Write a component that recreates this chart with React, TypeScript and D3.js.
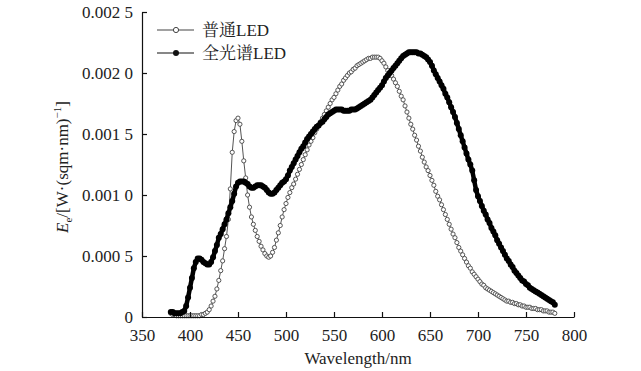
import React, { useEffect, useRef } from "react";
import * as d3 from "d3";

// Wavelength grid (nm)
const WL_START = 380;
const WL_END = 780;
const WL_STEP = 2;
const wavelengths: number[] = d3.range(WL_START, WL_END + 1, WL_STEP);

// Spectral irradiance values, in units of 1e-5 W·(sqm·nm)^-1
const UNIT = 1e-5;
const normalLED: number[] = [
  3, 2, 2, 1, 1, 1, 1, 1, 1, 1,
  1, 1, 1, 1, 1, 1, 2, 2, 3, 4,
  6, 9, 13, 17, 23, 30, 38, 46, 56, 66,
  80, 105, 135, 152, 161, 163, 158, 144, 128, 114,
  100, 90, 82, 76, 71, 66, 62, 58, 55, 52,
  50, 49, 50, 53, 57, 63, 69, 75, 82, 88,
  93, 98, 102, 106, 109, 113, 117, 121, 125, 129,
  133, 137, 141, 144, 147, 151, 154, 157, 160, 163,
  166, 169, 172, 175, 178, 180, 183, 186, 189, 191,
  194, 196, 198, 200, 201, 203, 204, 206, 207, 208,
  209, 210, 211, 212, 212, 213, 213, 213, 213, 212,
  210, 208, 205, 202, 200, 198, 195, 192, 189, 185,
  181, 178, 173, 168, 163, 158, 154, 149, 145, 140,
  136, 131, 127, 123, 120, 116, 112, 108, 103, 99,
  96, 92, 88, 84, 80, 76, 72, 68, 65, 61,
  57, 54, 51, 48, 45, 42, 40, 37, 35, 33,
  31, 29, 27, 26, 24, 23, 22, 21, 20, 19,
  18, 17, 16, 15, 14, 13, 13, 12, 12, 11,
  11, 10, 10, 9, 9, 8, 8, 8, 7, 7,
  7, 6, 6, 6, 5, 5, 5, 4, 4, 4,
  3,
];
const fullSpectrumLED: number[] = [
  4, 4, 3, 3, 3, 3, 4, 5, 9, 16,
  24, 32, 40, 45, 48, 48, 47, 45, 44, 43,
  43, 45, 49, 54, 59, 65, 68, 72, 76, 80,
  85, 90, 95, 101, 107, 110, 111, 111, 111, 110,
  109, 107, 106, 106, 107, 108, 108, 108, 107, 106,
  104, 102, 101, 101, 102, 104, 106, 108, 110, 111,
  113, 116, 120, 123, 126, 129, 132, 135, 138, 140,
  143, 146, 148, 150, 152, 154, 156, 157, 159, 160,
  162, 164, 166, 167, 168, 169, 170, 170, 170, 170,
  169, 169, 169, 169, 170, 170, 170, 171, 172, 173,
  174, 175, 176, 177, 178, 180, 182, 184, 186, 188,
  190, 193, 196, 198, 200, 202, 204, 206, 208, 210,
  212, 214, 215, 216, 217, 217, 217, 217, 217, 216,
  216, 215, 214, 213, 211, 209, 206, 202, 199, 196,
  193, 190, 187, 183, 180, 176, 172, 168, 164, 159,
  154, 149, 144, 139, 134, 129, 125, 120, 112, 104,
  99, 95, 91, 87, 84, 80, 77, 73, 70, 67,
  63, 60, 57, 54, 51, 48, 46, 43, 41, 38,
  36, 34, 32, 30, 29, 27, 26, 24, 23, 22,
  21, 20, 19, 18, 17, 16, 15, 14, 13, 12,
  10,
];

const seriesNamesCJK = ["普通", "全光谱"];
const seriesNamesLatin = ["LED", "LED"];
const xTicks = [350, 400, 450, 500, 550, 600, 650, 700, 750, 800];
const yTicks = [0, 0.0005, 0.001, 0.0015, 0.002, 0.0025];
const yTickLabels = ["0", "0.000 5", "0.001 0", "0.001 5", "0.002 0", "0.002 5"];
const xLabel = "Wavelength/nm";

const W = 641;
const H = 371;

export default function App() {
  const xAxisRef = useRef<SVGGElement>(null);
  const yAxisRef = useRef<SVGGElement>(null);

  const x = d3.scaleLinear().domain([350, 800]).range([142, 574]);
  const y = d3.scaleLinear().domain([0, 0.0025]).range([317, 12]);

  const normalPts = wavelengths.map((w, i) => [w, normalLED[i] * UNIT] as [number, number]);
  const fullPts = wavelengths.map((w, i) => [w, fullSpectrumLED[i] * UNIT] as [number, number]);
  const line = d3
    .line<[number, number]>()
    .x((d) => x(d[0]))
    .y((d) => y(d[1]));

  useEffect(() => {
    const gx = d3.select(xAxisRef.current!);
    gx.call(
      d3
        .axisBottom(x)
        .tickValues(xTicks)
        .tickSizeInner(-5)
        .tickSizeOuter(0)
        .tickPadding(12)
        .tickFormat((d) => String(d))
    );
    const gy = d3.select(yAxisRef.current!);
    gy.call(
      d3
        .axisLeft(y)
        .tickValues(yTicks)
        .tickSizeInner(-5)
        .tickSizeOuter(0)
        .tickPadding(9)
        .tickFormat((d, i) => yTickLabels[i])
    );
    [gx, gy].forEach((g) => {
      g.attr("font-family", null).attr("font-size", null);
      g.select(".domain").attr("stroke", "#111").attr("stroke-width", 1.2);
      g.selectAll(".tick line").attr("stroke", "#111").attr("stroke-width", 1.2);
      g.selectAll(".tick text").attr("fill", "#222").attr("font-size", 17).attr("class", "serif");
    });
  }, []);

  return (
    <svg width={W} height={H} style={{ position: "absolute", left: 0, top: 0, background: "#fff" }}>
      <style>{`
        text, tspan, .serif { font-family: "Liberation Serif", "Noto Serif CJK SC", serif; }
        .cjk { font-family: "Noto Serif CJK SC", serif; }
      `}</style>
      <rect x={0} y={0} width={W} height={H} fill="#fff" />
      {/* normal LED: open circles */}
      <path d={line(normalPts) || ""} fill="none" stroke="#555" strokeWidth={1} />
      {normalPts.map((d, i) => (
        <circle key={"n" + i} cx={x(d[0])} cy={y(d[1])} r={2.1} fill="#fff" stroke="#444" strokeWidth={0.9} />
      ))}
      {/* full spectrum LED: filled circles */}
      <path d={line(fullPts) || ""} fill="none" stroke="#000" strokeWidth={4.5} strokeLinejoin="round" />
      {fullPts.map((d, i) => (
        <circle key={"f" + i} cx={x(d[0])} cy={y(d[1])} r={3} fill="#000" />
      ))}
      <g ref={xAxisRef} transform={`translate(0,${y(0)})`} />
      <g ref={yAxisRef} transform={`translate(${x(350)},0)`} />
      {/* legend */}
      <g>
        <line x1={157} x2={194} y1={30} y2={30} stroke="#444" strokeWidth={1.2} />
        <circle cx={176} cy={30} r={2.6} fill="#fff" stroke="#444" strokeWidth={1} />
        <text x={202} y={36} fontSize={17} fill="#222">
          <tspan className="cjk">{seriesNamesCJK[0]}</tspan>
          <tspan className="serif">{seriesNamesLatin[0]}</tspan>
        </text>
        <line x1={157} x2={194} y1={53} y2={53} stroke="#111" strokeWidth={1.2} />
        <circle cx={176} cy={53} r={3} fill="#111" />
        <text x={202} y={59} fontSize={17} fill="#222">
          <tspan className="cjk">{seriesNamesCJK[1]}</tspan>
          <tspan className="serif">{seriesNamesLatin[1]}</tspan>
        </text>
      </g>
      {/* axis labels */}
      <text x={358} y={364} textAnchor="middle" fontSize={17} fill="#222" className="serif">{xLabel}</text>
      <text transform="translate(68,167) rotate(-90)" textAnchor="middle" fontSize={17} fill="#222" className="serif">
        <tspan fontStyle="italic" className="serif">E</tspan>
        <tspan fontSize={11} dy={4} className="serif">e</tspan>
        <tspan dy={-4} className="serif">/[W·(sqm·nm)</tspan>
        <tspan fontSize={11} dy={-7} className="serif">−1</tspan>
        <tspan dy={7} className="serif">]</tspan>
      </text>
    </svg>
  );
}
